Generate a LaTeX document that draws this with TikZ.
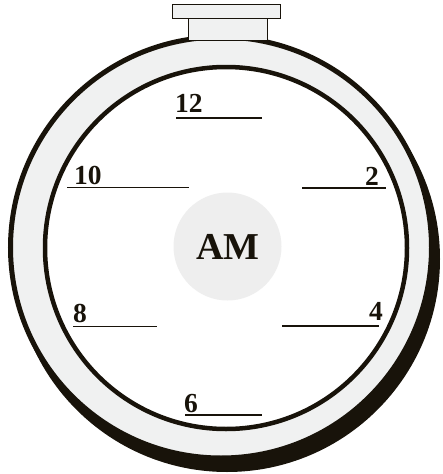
\documentclass[tikz,border=0pt]{standalone}
\usepackage{fontspec}
\setmainfont{Liberation Serif}
\usetikzlibrary{positioning}
\definecolor{ink}{RGB}{24,19,10}
\definecolor{rim}{RGB}{240,241,241}
\definecolor{dial}{RGB}{238,238,238}

\begin{document}
\begin{tikzpicture}[x=1pt,y=-1pt,
        num/.style={text=ink,inner sep=0pt,font=\fontsize{27.5}{27.5}\selectfont\bfseries},
        tick/.style={ink,line width=1.8pt},
        capbox/.style={fill=rim,draw=ink,line width=0.8pt}]
            \useasboundingbox (0,0) rectangle (442,474);

            \fill[ink] (227,259) circle (213);
            \filldraw[fill=rim,draw=ink,line width=5pt] (221,247.5) circle (210.5);
            \filldraw[fill=white,draw=ink,line width=4.5pt] (226,248) circle (181);

            \filldraw[capbox] (172.5,4) rectangle (280.5,18.5);
            \filldraw[capbox] (188,18.5) rectangle (267,40);

            \fill[dial] (227.5,246.5) circle (54);
            \node[text=ink,font=\fontsize{38}{38}\selectfont\bfseries] (am) at (228,246.5) {AM};

            \coordinate (a12) at (176,118);
            \coordinate (b12) at (262,118);
            \coordinate (a10) at (67,187.5);
            \coordinate (b10) at (189,187.5);
            \coordinate (a2) at (302,188);
            \coordinate (b2) at (386,188);
            \coordinate (a8) at (73,326.5);
            \coordinate (b8) at (157,326.5);
            \coordinate (a4) at (282,326);
            \coordinate (b4) at (379,326);
            \coordinate (a6) at (185,415);
            \coordinate (b6) at (262,415);

            \draw[tick] (a12) -- (b12);
            \draw[tick] (a10) -- (b10);
            \draw[tick] (a2) -- (b2);
            \draw[tick] (a8) -- (b8);
            \draw[tick] (a4) -- (b4);
            \draw[tick] (a6) -- (b6);

            \node[num,anchor=base west] (n12) at (175,112.5) {12};
            \node[num,anchor=base west] (n10) at (74,184) {10};
            \node[num,anchor=base east] (n2) at (379,185) {2};
            \node[num,anchor=base west] (n8) at (73,322) {8};
            \node[num,anchor=base east] (n4) at (383,320) {4};
            \node[num,anchor=base west] (n6) at (184,412) {6};

        \end{tikzpicture}
\end{document}
